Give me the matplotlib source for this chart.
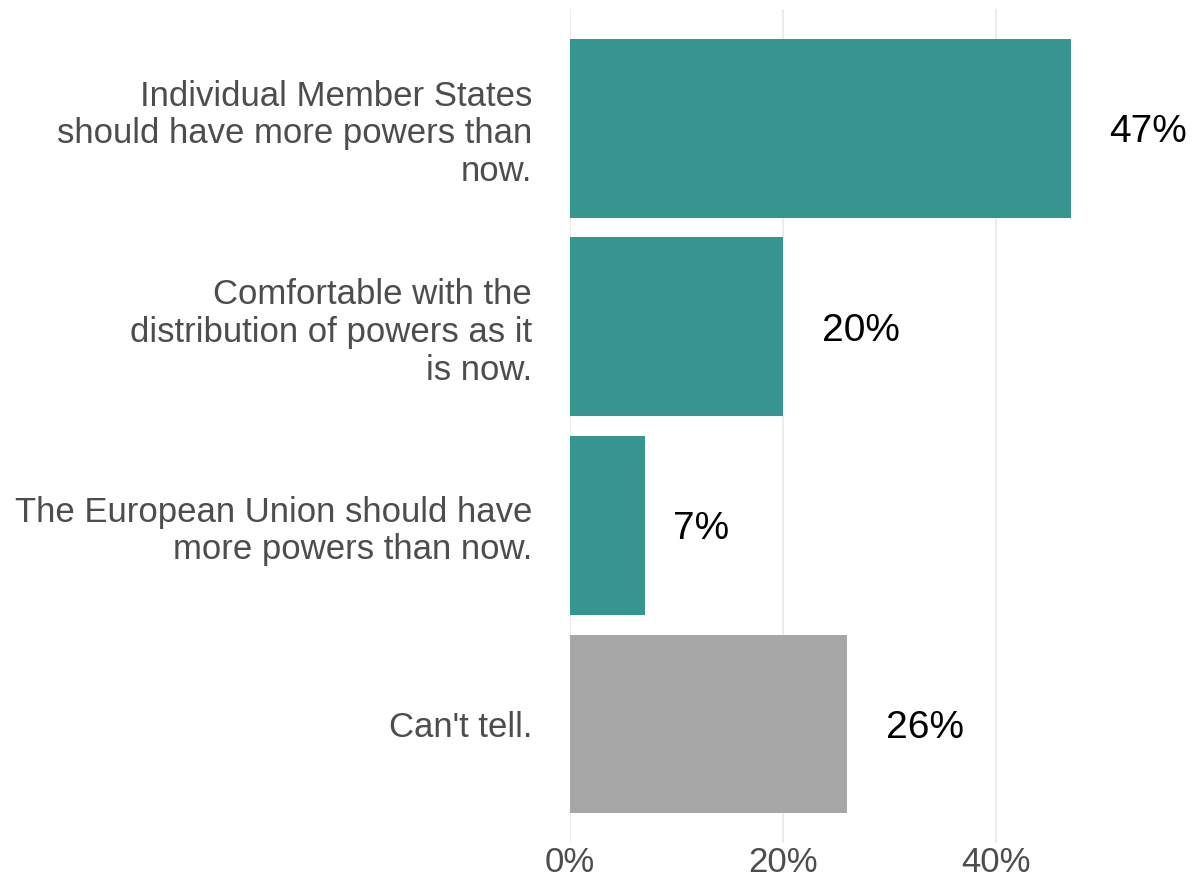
import matplotlib
matplotlib.use("Agg")
import matplotlib.pyplot as plt
import matplotlib.transforms as mtransforms

categories = [
    "Individual Member States\nshould have more powers than\nnow.",
    "Comfortable with the\ndistribution of powers as it\nis now.",
    "The European Union should have\nmore powers than now.",
    "Can't tell.",
]
values = [47, 20, 7, 26]
value_labels = ["47%", "20%", "7%", "26%"]
bar_colors = ["#36958f", "#36958f", "#36958f", "#a6a6a6"]
x_ticks = [0, 20, 40]
x_tick_labels = ["0%", "20%", "40%"]

plt.rcParams['font.family'] = ['Liberation Sans', 'DejaVu Sans']

W, H = 1195, 881
fig = plt.figure(figsize=(W / 100, H / 100), dpi=100)
ax = fig.add_axes([570 / W, (H - 843) / H, (1190 - 570) / W, (843 - 9) / H])

ypos = list(range(len(categories)))
ax.barh(ypos, values, height=0.9, color=bar_colors, zorder=2)
ax.set_ylim(len(categories) - 0.4, -0.6)
ax.set_xlim(0, 58.2)

ax.set_xticks(x_ticks)
ax.set_xticklabels(x_tick_labels)
ax.set_yticks(ypos)
ax.set_yticklabels(categories, linespacing=1.18)
ax.tick_params(axis='both', length=0, labelsize=25, labelcolor='#4d4d4d')
ax.tick_params(axis='x', pad=2)
ax.tick_params(axis='y', pad=27.4)
for lab in ax.get_yticklabels():
    lab.set_horizontalalignment('right')

for s in ax.spines.values():
    s.set_visible(False)
ax.grid(axis='x', color='#ebebeb', linewidth=1.3, zorder=0)
ax.grid(axis='y', visible=False)
ax.set_axisbelow(True)

fs_val = 28
cap_px = 0.716 * fs_val * fig.dpi / 72
renderer = fig.canvas.get_renderer()
for y, v, lab in zip(ypos, values, value_labels):
    t = ax.text(v, y, lab, ha='left', va='baseline', fontsize=fs_val, color='black',
                clip_on=True)
    w = t.get_window_extent(renderer=renderer).width
    t.set_transform(mtransforms.offset_copy(ax.transData, fig=fig,
                                            x=0.5 * w * 72 / fig.dpi,
                                            y=-0.5 * cap_px * 72 / fig.dpi,
                                            units='points'))

fig.savefig("out.png", dpi=100, facecolor='white')
